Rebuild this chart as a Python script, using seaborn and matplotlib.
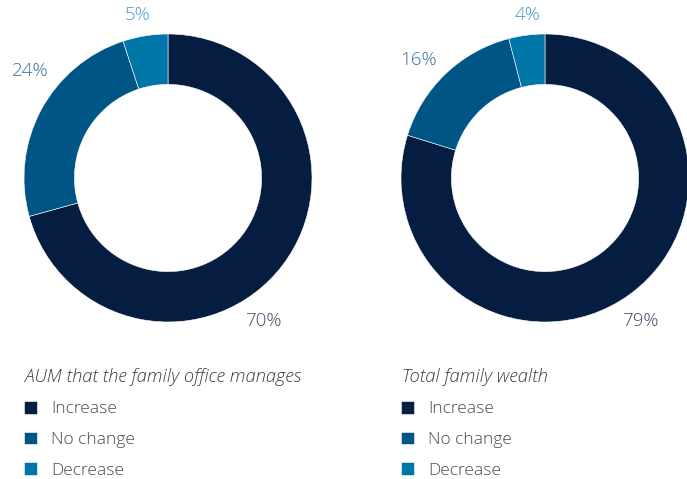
"""
Two donut charts: expected change in AUM vs total family wealth.

Output: out.png
"""

import matplotlib
matplotlib.use("Agg")
import matplotlib.pyplot as plt
import seaborn as sns

CATEGORIES = ["Increase", "No change", "Decrease"]
AUM_VALUES = [70, 24, 5]
WEALTH_VALUES = [79, 16, 4]
TITLES = ["AUM that the family office manages", "Total family wealth"]

COLORS = ["#041d40", "#005587", "#0076a8"]
LABEL_COLORS = ["#3e4c66", "#3a72a0", "#4a9bcb"]

# label anchors (in units of the outer radius), one set per chart
LABEL_POS = [
    [(0.66, -0.99), (-0.96, 0.74), (-0.21, 1.13)],
    [(0.66, -0.99), (-0.88, 0.82), (-0.12, 1.13)],
]

W, H = 687, 479
DPI = 100


def donut(fig, rect, values, label_pos, title, legend_x):
    ax = fig.add_axes(rect)
    wedges, _ = ax.pie(
        values,
        colors=COLORS,
        startangle=90,
        counterclock=False,
        radius=1.0,
        wedgeprops=dict(width=0.35, edgecolor="white", linewidth=0.4),
    )
    ax.set_xlim(-1, 1)
    ax.set_ylim(-1, 1)
    ax.set_aspect("equal")
    ax.axis("off")
    for v, (x, y), c in zip(values, label_pos, LABEL_COLORS):
        ax.text(x, y, f"{v}%", ha="center", va="center", fontsize=13.5,
                color=c, fontweight="light", clip_on=False)

    fig.text(legend_x + 1 / W, 1 - 382 / H, title, ha="left", va="baseline",
             fontsize=13.2, style="italic", fontweight="light", color="#3a3a3a")
    leg = fig.legend(
        wedges, CATEGORIES,
        loc="upper left",
        bbox_to_anchor=(legend_x, 1 - 401 / H),
        bbox_transform=fig.transFigure,
        frameon=False,
        fontsize=12.5,
        handlelength=0.75,
        handleheight=0.75,
        handletextpad=0.8,
        labelspacing=0.82,
        borderpad=0,
        borderaxespad=0,
    )
    for t in leg.get_texts():
        t.set_color("#4a4a4a")
        t.set_fontweight("light")
    return ax


def main() -> None:
    sns.set_theme(style="white")
    plt.rcParams["font.family"] = ["Open Sans", "DejaVu Sans"]

    fig = plt.figure(figsize=(W / DPI, H / DPI), dpi=DPI)
    fig.patch.set_facecolor("white")

    r = 144
    # left donut centre (168, 178), right donut centre (545, 178) in pixels
    for (cx, cy), vals, pos, title, lx in [
        ((168, 178), AUM_VALUES, LABEL_POS[0], TITLES[0], 24 / W),
        ((545, 178), WEALTH_VALUES, LABEL_POS[1], TITLES[1], 401 / W),
    ]:
        rect = [(cx - r) / W, 1 - (cy + r) / H, 2 * r / W, 2 * r / H]
        donut(fig, rect, vals, pos, title, lx)

    fig.savefig("out.png", dpi=DPI, facecolor="white")
    plt.close(fig)


if __name__ == "__main__":
    main()
